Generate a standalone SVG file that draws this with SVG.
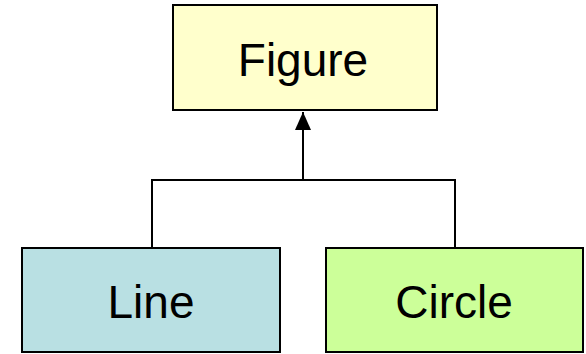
<svg xmlns="http://www.w3.org/2000/svg" width="586" height="354" viewBox="0 0 586 354">
<style>
.box{stroke:#000;stroke-width:2}
.lbl{font-family:"Liberation Sans",Arial,sans-serif;font-size:46px;fill:#000;text-anchor:middle}
.conn{fill:none;stroke:#000;stroke-width:2}
</style>
<defs>
<marker id="tri" markerWidth="18" markerHeight="16" refX="18" refY="8" orient="auto" markerUnits="userSpaceOnUse" viewBox="0 0 18 16">
<path d="M0 0 L18 8 L0 16 Z" fill="#000"/>
</marker>
</defs>
<rect width="586" height="354" fill="#fff"/>
<g id="connectors">
<path class="conn" d="M152 248 V180 H455 V248"/>
<path class="conn" d="M303 180 V112" marker-end="url(#tri)"/>
</g>
<g id="figure">
<rect class="box" x="173" y="5" width="264" height="105" fill="#FFFFCC"/>
<text class="lbl" x="303" y="76">Figure</text>
</g>
<g id="line">
<rect class="box" x="22" y="248" width="258" height="104" fill="#B9E0E3"/>
<text class="lbl" x="151" y="318">Line</text>
</g>
<g id="circle">
<rect class="box" x="326" y="248" width="257" height="104" fill="#CCFF99"/>
<text class="lbl" x="454" y="318">Circle</text>
</g>
</svg>
